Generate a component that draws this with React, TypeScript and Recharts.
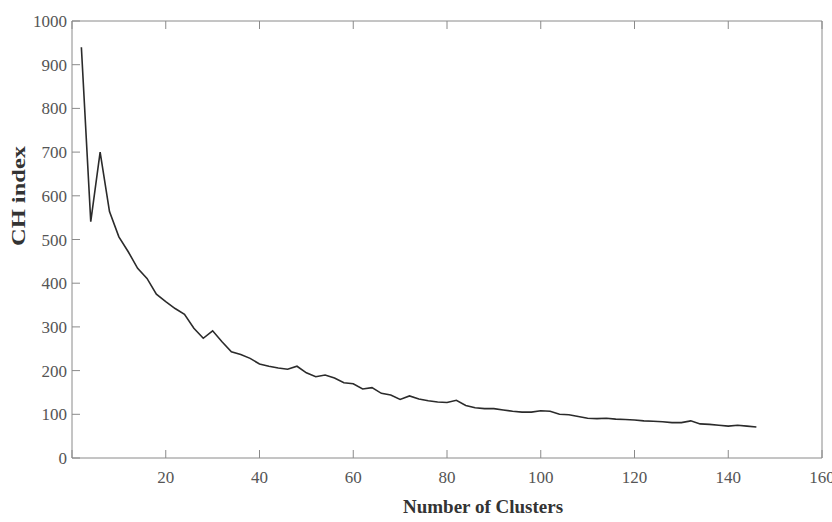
import React from 'react';
import { LineChart, Line, XAxis, YAxis, Label } from 'recharts';

// cluster counts (every 2 from 2 to 146)
const clusters = [
  2, 4, 6, 8, 10, 12, 14, 16, 18, 20, 22, 24, 26, 28, 30, 32, 34, 36, 38, 40,
  42, 44, 46, 48, 50, 52, 54, 56, 58, 60, 62, 64, 66, 68, 70, 72, 74, 76, 78, 80,
  82, 84, 86, 88, 90, 92, 94, 96, 98, 100, 102, 104, 106, 108, 110, 112, 114, 116, 118, 120,
  122, 124, 126, 128, 130, 132, 134, 136, 138, 140, 142, 144, 146,
];

const chIndex = [
  940, 541, 700, 564, 506, 472, 434, 411, 375, 358, 342, 329, 297, 274, 291, 266, 243, 237, 228, 215,
  210, 206, 203, 210, 195, 186, 190, 183, 172, 170, 158, 161, 148, 144, 134, 142, 135, 131, 128, 127,
  132, 120, 115, 113, 113, 110, 107, 105, 105, 108, 107, 100, 99, 95, 91, 90, 91, 89, 88, 87,
  85, 84, 83, 81, 81, 85, 78, 77, 75, 73, 75, 73, 71,
];

const xTicks = [0, 20, 40, 60, 80, 100, 120, 140, 160];
const yTicks = [0, 100, 200, 300, 400, 500, 600, 700, 800, 900, 1000];

const data = clusters.map((x, i) => ({ x, ch: chIndex[i] }));

const AXIS = '#8a8a8a';
const TEXT = '#555';
const FONT = "'Liberation Serif', 'Times New Roman', serif";
const TICK_LEN = 8;

const BottomTick = (props: any) => {
  const { x, y, payload } = props;
  return (
    <g>
      <line x1={x} y1={y} x2={x} y2={y - TICK_LEN} stroke={AXIS} />
      {payload.value !== 0 && (
        <text x={x} y={y + 25} textAnchor="middle" fill={TEXT} fontSize={17} fontFamily={FONT}>
          {payload.value}
        </text>
      )}
    </g>
  );
};

const LeftTick = (props: any) => {
  const { x, y, payload } = props;
  return (
    <g>
      <line x1={x} y1={y} x2={x + TICK_LEN} y2={y} stroke={AXIS} />
      <text x={x - 5} y={y + 6} textAnchor="end" fill={TEXT} fontSize={17} fontFamily={FONT}>
        {payload.value}
      </text>
    </g>
  );
};

const TopTick = (props: any) => {
  const { x, y } = props;
  return <line x1={x} y1={y} x2={x} y2={y + TICK_LEN} stroke={AXIS} />;
};

const RightTick = (props: any) => {
  const { x, y } = props;
  return <line x1={x} y1={y} x2={x - TICK_LEN} y2={y} stroke={AXIS} />;
};

export default function App() {
  return (
    <div style={{ position: 'absolute', left: 0, top: 0, background: '#fff' }}>
      <LineChart width={832} height={522} data={data} margin={{ top: 20, right: 9, bottom: 0, left: 0 }}>
        <XAxis
          dataKey="x"
          type="number"
          domain={[0, 160]}
          ticks={xTicks}
          height={64}
          tickSize={0}
          tickMargin={0}
          tickLine={false}
          axisLine={{ stroke: AXIS }}
          tick={BottomTick}
          interval={0}
        >
          <Label
            content={() => (
              <text x={483} y={513} textAnchor="middle" fill="#333" fontSize={19} fontWeight="bold" fontFamily={FONT}>
                Number of Clusters
              </text>
            )}
          />
        </XAxis>
        <XAxis
          xAxisId="top"
          orientation="top"
          dataKey="x"
          type="number"
          domain={[0, 160]}
          ticks={xTicks}
          height={1}
          tickSize={0}
          tickMargin={0}
          tickLine={false}
          axisLine={{ stroke: AXIS }}
          tick={TopTick}
          interval={0}
        />
        <YAxis
          type="number"
          domain={[0, 1000]}
          ticks={yTicks}
          width={72}
          tickSize={0}
          tickMargin={0}
          tickLine={false}
          axisLine={{ stroke: AXIS }}
          tick={LeftTick}
          interval={0}
        >
          <Label
            content={() => (
              <text
                x={18}
                y={196}
                transform="rotate(-90 18 196)"
                textAnchor="middle"
                dominantBaseline="central"
                fill="#333"
                fontSize={19}
                fontWeight="bold"
                fontFamily={FONT}
                textLength={100}
                lengthAdjust="spacingAndGlyphs"
              >
                CH index
              </text>
            )}
          />
        </YAxis>
        <YAxis
          yAxisId="right"
          orientation="right"
          type="number"
          domain={[0, 1000]}
          ticks={yTicks}
          width={1}
          tickSize={0}
          tickMargin={0}
          tickLine={false}
          axisLine={{ stroke: AXIS }}
          tick={RightTick}
          interval={0}
        />
        <Line
          type="linear"
          dataKey="ch"
          stroke="#2b2b2b"
          strokeWidth={1.6}
          dot={false}
          isAnimationActive={false}
        />
      </LineChart>
    </div>
  );
}
